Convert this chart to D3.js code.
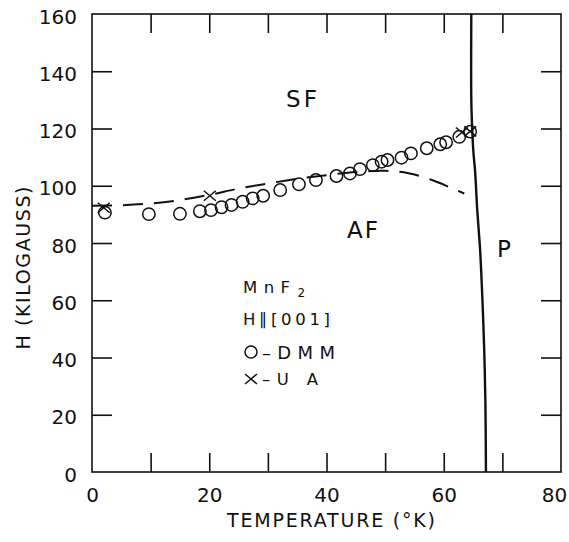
<!DOCTYPE html>
<html>
<head>
<meta charset="utf-8">
<script src="https://cdn.jsdelivr.net/npm/d3@7"></script>
<style>
  html, body { margin: 0; padding: 0; background: #fff; }
  svg { display: block; }
  text { font-family: "DejaVu Sans", "Liberation Sans", Arial, sans-serif; fill: #111; }
</style>
</head>
<body>
<svg id="chart" width="569" height="542"></svg>
<script>
// ---------- data ----------
const xTicks = [0, 10, 20, 30, 40, 50, 60, 70, 80];
const yTicks = [0, 20, 40, 60, 80, 100, 120, 140, 160];

// DMM measurements (circles)
const dmmT = [2.2, 9.7, 15.0, 18.4, 20.3, 22.1, 23.8, 25.7, 27.4, 29.2, 32.1, 35.3, 38.2, 41.7, 44.0, 45.7, 47.9, 49.4, 50.4, 52.8, 54.4, 57.1, 59.4, 60.4, 62.65, 64.5];
const dmmH = [90.6, 90.1, 90.2, 91.1, 91.5, 92.5, 93.3, 94.4, 95.6, 96.5, 98.5, 100.5, 102.0, 103.4, 104.3, 105.8, 107.2, 108.4, 109.0, 109.8, 111.3, 113.1, 114.5, 115.2, 117.1, 118.9];

// UA measurements (crosses)
const uaT = [2.0, 20.1, 63.1, 64.5];
const uaH = [92.3, 96.5, 118.6, 119.0];

// dashed (theoretical) AF-SF boundary
const dashT = [0, 5, 10, 15, 20, 25, 30, 35, 40, 45, 50, 54, 58, 61, 63.5];
const dashH = [93.0, 93.2, 93.8, 95.0, 96.8, 99.0, 100.8, 102.4, 103.7, 104.8, 105.2, 104.4, 102.0, 99.5, 97.3];

// solid paramagnetic boundary
const parT = [64.7, 64.7, 64.85, 65.05, 65.35, 65.7, 66.2, 66.6, 66.9, 67.1, 67.2];
const parH = [160, 130, 120, 112, 105, 92, 77.6, 60, 42.6, 25, 0];

// ---------- layout ----------
const svg = d3.select("#chart");
const L = 92, R = 561, T = 14, B = 472;
const x = d3.scaleLinear().domain([0, 80]).range([L, R]);
const y = d3.scaleLinear().domain([0, 160]).range([B, T]);
const ink = "#111";
const FONT = '"DejaVu Sans", "Liberation Sans", Arial, sans-serif';

// frame
svg.append("rect")
  .attr("x", L).attr("y", T).attr("width", R - L).attr("height", B - T)
  .attr("fill", "none").attr("stroke", ink).attr("stroke-width", 1.6);

function styleAxis(g) {
  g.select(".domain").remove();
  g.selectAll(".tick line").attr("stroke", ink).attr("stroke-width", 1.6);
  g.selectAll(".tick text").style("font-family", FONT)
    .attr("font-size", 20).attr("fill", ink);
}

const innerX = xTicks.filter(v => v > 0 && v < 80);
const innerY = yTicks.filter(v => v > 0 && v < 160);

// bottom axis (labels)
svg.append("g").attr("transform", `translate(0,${B})`)
  .call(d3.axisBottom(x).tickValues(xTicks).tickSizeInner(-19).tickSizeOuter(0).tickPadding(16)
    .tickFormat(d => d % 20 === 0 ? d : ""))
  .call(styleAxis)
  .call(g => g.selectAll(".tick").filter(d => d === 0 || d === 80).select("line").remove())
  .call(g => g.selectAll(".tick").filter(d => d === 80).select("text").attr("dx", -7));

// top axis (ticks only)
svg.append("g").attr("transform", `translate(0,${T})`)
  .call(d3.axisTop(x).tickValues(innerX).tickSizeInner(-19).tickSizeOuter(0).tickFormat(""))
  .call(styleAxis);

// left axis
svg.append("g").attr("transform", `translate(${L},0)`)
  .call(d3.axisLeft(y).tickValues(yTicks).tickSizeInner(-20).tickSizeOuter(0).tickPadding(15))
  .call(styleAxis)
  .call(g => g.selectAll(".tick").filter(d => d === 0 || d === 160).select("line").remove())
  .call(g => g.selectAll(".tick text").attr("dy", "0.45em"));

// right axis (ticks only)
svg.append("g").attr("transform", `translate(${R},0)`)
  .call(d3.axisRight(y).tickValues(innerY).tickSizeInner(-20).tickSizeOuter(0).tickFormat(""))
  .call(styleAxis);

// axis titles
svg.append("text")
  .attr("x", 331).attr("y", 527).attr("text-anchor", "middle")
  .attr("font-size", 19).attr("textLength", 208).attr("lengthAdjust", "spacing")
  .text("TEMPERATURE (°K)");

svg.append("text")
  .attr("transform", "translate(30,268) rotate(-90)")
  .attr("text-anchor", "middle").attr("font-size", 19)
  .attr("textLength", 163).attr("lengthAdjust", "spacing")
  .text("H (KILOGAUSS)");

// dashed curve
const dashData = dashT.map((t, i) => [t, dashH[i]]);
svg.append("path")
  .datum(dashData)
  .attr("d", d3.line().x(d => x(d[0])).y(d => y(d[1])).curve(d3.curveCatmullRom))
  .attr("fill", "none").attr("stroke", ink).attr("stroke-width", 2)
  .attr("stroke-dasharray", "20,11");

// paramagnetic boundary
const parData = parT.map((t, i) => [t, parH[i]]);
svg.append("path")
  .datum(parData)
  .attr("d", d3.line().x(d => x(d[0])).y(d => y(d[1])).curve(d3.curveCatmullRom))
  .attr("fill", "none").attr("stroke", ink).attr("stroke-width", 2.4);

// DMM circles
svg.append("g").selectAll("circle")
  .data(dmmT.map((t, i) => [t, dmmH[i]]))
  .join("circle")
  .attr("cx", d => x(d[0])).attr("cy", d => y(d[1])).attr("r", 6.2)
  .attr("fill", "none").attr("stroke", ink).attr("stroke-width", 1.5);

// UA crosses
const crossPath = (cx, cy) => `M${cx - 6},${cy - 5}L${cx + 6},${cy + 5}M${cx - 6},${cy + 5}L${cx + 6},${cy - 5}`;
svg.append("g").selectAll("path")
  .data(uaT.map((t, i) => [t, uaH[i]]))
  .join("path")
  .attr("d", d => crossPath(x(d[0]), y(d[1])))
  .attr("fill", "none").attr("stroke", ink).attr("stroke-width", 1.5);

// region labels
svg.append("text").attr("x", 286).attr("y", 107).attr("font-size", 23)
  .attr("textLength", 31).attr("lengthAdjust", "spacing").text("SF");
svg.append("text").attr("x", 347).attr("y", 238).attr("font-size", 23)
  .attr("textLength", 31).attr("lengthAdjust", "spacing").text("AF");
svg.append("text").attr("x", 497).attr("y", 257).attr("font-size", 23).text("P");

// legend / annotation
const t1 = svg.append("text").attr("x", 243).attr("y", 293).attr("font-size", 16.5);
t1.append("tspan").attr("textLength", 47).attr("lengthAdjust", "spacing").text("MnF");
t1.append("tspan").attr("font-size", 12).attr("dy", 4).attr("dx", 1).text("2");

svg.append("text").attr("x", 243).attr("y", 325).attr("font-size", 16.5)
  .attr("textLength", 87).attr("lengthAdjust", "spacing").text("H∥[001]");

svg.append("circle").attr("cx", 251).attr("cy", 352).attr("r", 6)
  .attr("fill", "none").attr("stroke", ink).attr("stroke-width", 1.5);
svg.append("text").attr("x", 262).attr("y", 359).attr("font-size", 18)
  .attr("textLength", 73).attr("lengthAdjust", "spacing").text("–DMM");

svg.append("path").attr("d", crossPath(251, 379))
  .attr("fill", "none").attr("stroke", ink).attr("stroke-width", 1.5);
svg.append("text").attr("x", 262).attr("y", 385).attr("font-size", 16.5)
  .attr("textLength", 56).attr("lengthAdjust", "spacing").text("–U A");
</script>
</body>
</html>
